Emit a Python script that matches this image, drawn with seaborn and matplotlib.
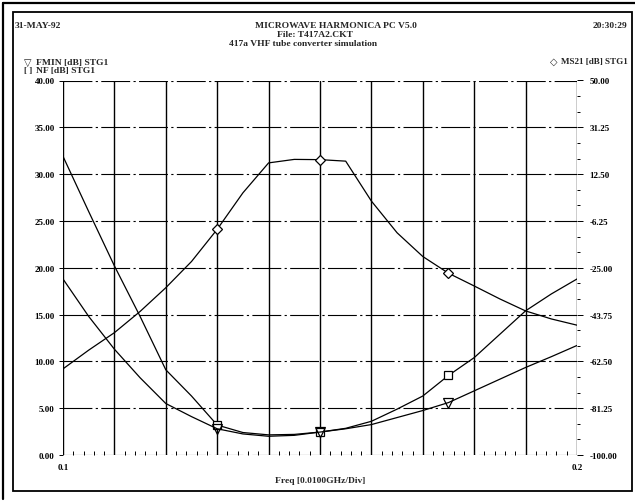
import matplotlib
matplotlib.use("Agg")
import matplotlib.pyplot as plt
import seaborn as sns
import pandas as pd
from matplotlib.ticker import MultipleLocator, FixedLocator, FixedFormatter
from matplotlib.patches import Rectangle
from matplotlib.lines import Line2D

# ---- data ----
freq = [0.100, 0.105, 0.110, 0.115, 0.120, 0.125, 0.130, 0.135, 0.140, 0.145,
        0.150, 0.155, 0.160, 0.165, 0.170, 0.175, 0.180, 0.185, 0.190, 0.195, 0.200]
nf_db = [31.9, 26.0, 20.2, 14.8, 9.1, 6.3, 3.2, 2.4, 2.15, 2.2,
         2.45, 2.85, 3.6, 4.9, 6.3, 8.5, 10.4, 12.9, 15.4, 17.2, 18.8]
fmin_db = [18.8, 14.8, 11.3, 8.25, 5.5, 4.1, 2.8, 2.25, 2.0, 2.1,
           2.45, 2.8, 3.25, 4.0, 4.75, 5.6, 6.85, 8.1, 9.35, 10.5, 11.7]
ms21_db = [-65.5, -58.0, -51.0, -42.5, -33.0, -22.5, -9.6, 5.0, 17.0, 18.4,
           18.3, 17.7, 1.7, -11.0, -20.5, -27.2, -32.3, -37.5, -42.3, -45.5, -48.0]
marker_idx = [6, 10, 15]

left_ticks = [0, 5, 10, 15, 20, 25, 30, 35, 40]
left_labels = ["0.00", "5.00", "10.00", "15.00", "20.00", "25.00", "30.00", "35.00", "40.00"]
right_ticks = [-100, -81.25, -62.5, -43.75, -25, -6.25, 12.5, 31.25, 50]
right_labels = ["-100.00", "-81.25", "-62.50", "-43.75", "-25.00", "-6.25", "12.50", "31.25", "50.00"]
x_grid = [0.10, 0.11, 0.12, 0.13, 0.14, 0.15, 0.16, 0.17, 0.18, 0.19, 0.20]
x_labels = ["0.1", "", "", "", "", "", "", "", "", "", "0.2"]

df = pd.DataFrame({"freq": freq, "NF": nf_db, "FMIN": fmin_db, "MS21": ms21_db})

sns.set_theme(style="white")
plt.rcParams["font.family"] = ["Liberation Serif", "DejaVu Serif"]
plt.rcParams["font.weight"] = "bold"

W, H = 635, 502
fig = plt.figure(figsize=(W / 100, H / 100), dpi=100)
fig.patch.set_facecolor("white")

def fx(x):
    return x / W

def fy(y):
    return 1 - y / H

ax = fig.add_axes([fx(63), fy(456), (577 - 63) / W, (456 - 81.5) / H])
ax.set_facecolor("white")
ax2 = ax.twinx()

lw = 0.9
sns.lineplot(data=df, x="freq", y="NF", ax=ax, color="black", lw=lw,
             marker="s", markevery=marker_idx, markersize=6,
             markerfacecolor="white", markeredgecolor="black", markeredgewidth=0.9)
sns.lineplot(data=df, x="freq", y="FMIN", ax=ax, color="black", lw=lw,
             marker="v", markevery=marker_idx, markersize=7,
             markerfacecolor="none", markeredgecolor="black", markeredgewidth=0.9)
sns.lineplot(data=df, x="freq", y="MS21", ax=ax2, color="black", lw=lw,
             marker="D", markevery=marker_idx, markersize=5,
             markerfacecolor="white", markeredgecolor="black", markeredgewidth=0.9)

ax.set_xlim(0.1, 0.2)
ax.set_ylim(0, 40)
ax2.set_ylim(-100, 50)

for a in (ax, ax2):
    for s in a.spines.values():
        s.set_visible(False)
    a.set_xlabel("")
    a.set_ylabel("")

# grid
ax.xaxis.set_major_locator(FixedLocator(x_grid))
ax.xaxis.set_major_formatter(FixedFormatter(x_labels))
ax.xaxis.set_minor_locator(MultipleLocator(0.002))
ax.yaxis.set_major_locator(FixedLocator(left_ticks))
ax.yaxis.set_major_formatter(FixedFormatter(left_labels))
ax.grid(False)
ax.xaxis.grid(True, color="black", lw=1.0, linestyle="-")
ax.yaxis.grid(True, color="black", lw=0.8, linestyle=(0, (26, 3, 2, 3)))
ax.set_axisbelow(True)

ax.tick_params(axis="x", which="major", length=0, pad=6, labelsize=6.5, colors="black")
ax.tick_params(axis="x", which="minor", bottom=True, direction="in", length=3, width=0.7, color="black")
ax.tick_params(axis="y", which="major", left=True, direction="out", length=3, width=0.7,
               pad=3, labelsize=6.5, colors="black")

ax2.yaxis.set_major_locator(FixedLocator(right_ticks))
ax2.yaxis.set_major_formatter(FixedFormatter(right_labels))
ax2.yaxis.set_minor_locator(MultipleLocator(6.25))
ax2.grid(False)
ax2.tick_params(axis="y", which="major", right=True, direction="out", length=4, width=0.7,
                pad=5, labelsize=6.5, colors="black")
ax2.tick_params(axis="y", which="minor", right=True, direction="out", length=2.5, width=0.7, color="black")
for t in ax.get_xticklabels() + ax.get_yticklabels() + ax2.get_yticklabels():
    t.set_fontweight("bold")

# header texts
fs = 6.8
fig.text(fx(15), fy(26), "31-MAY-92", fontsize=fs, fontweight="bold", ha="left", va="center")
fig.text(fx(336), fy(26), "MICROWAVE HARMONICA PC V5.0", fontsize=fs, fontweight="bold", ha="center", va="center")
fig.text(fx(315), fy(35), "File: T417A2.CKT", fontsize=fs, fontweight="bold", ha="center", va="center")
fig.text(fx(303), fy(44), "417a VHF tube converter simulation", fontsize=fs, fontweight="bold", ha="center", va="center")
fig.text(fx(627), fy(26), "20:30:29", fontsize=fs, fontweight="bold", ha="right", va="center")

# legend entries
fig.text(fx(24), fy(63), "\u25bd", fontsize=7, ha="left", va="center", family=["DejaVu Sans"])
fig.text(fx(36), fy(63), "FMIN [dB] STG1", fontsize=fs, fontweight="bold", ha="left", va="center")
fig.text(fx(24), fy(71), "[ ]", fontsize=6.5, fontweight="bold", ha="left", va="center")
fig.text(fx(36), fy(71), "NF [dB] STG1", fontsize=fs, fontweight="bold", ha="left", va="center")
fig.text(fx(550), fy(62), "\u25c7", fontsize=7, ha="left", va="center", family=["DejaVu Sans"])
fig.text(fx(628), fy(62), "MS21 [dB] STG1", fontsize=6.5, fontweight="bold", ha="right", va="center")

fig.text(fx(320), fy(481), "Freq [0.0100GHz/Div]", fontsize=fs, fontweight="bold", ha="center", va="center")

# frame
fig.add_artist(Rectangle((fx(13), fy(492)), (632 - 13) / W, (492 - 13) / H,
                         fill=False, lw=1.3, edgecolor="black", transform=fig.transFigure))
fig.add_artist(Line2D([fx(2.5), fx(2.5)], [fy(4), fy(500)], lw=1.6, color="black", transform=fig.transFigure))
fig.add_artist(Line2D([fx(2.5), fx(635)], [fy(4), fy(4)], lw=1.6, color="black", transform=fig.transFigure))

fig.savefig("out.png", dpi=100)
